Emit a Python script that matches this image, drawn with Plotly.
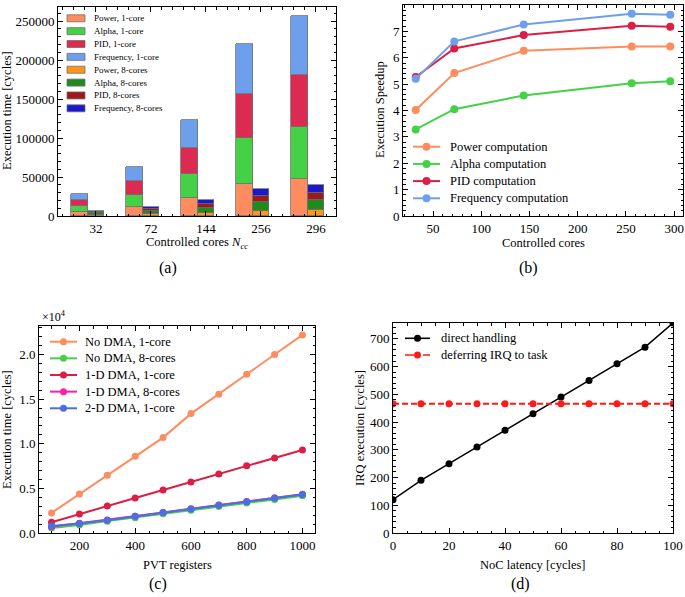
import plotly.graph_objects as go

W, H = 685, 597
SERIF = "Liberation Serif"

# ---------------- data ----------------
# (a) execution time per segment
cores_labels = ["32", "72", "144", "256", "296"]
power_1core = [5200, 11300, 22800, 40500, 47000]
alpha_1core = [7400, 16200, 31700, 58900, 67300]
pid_1core = [7900, 17000, 33300, 57600, 67100]
freq_1core = [7700, 17900, 35800, 64000, 74600]
power_8core = [1290, 2090, 3640, 6300, 7310]
alpha_8core = [2260, 4000, 6940, 11710, 13170]
pid_8core = [1500, 2680, 4850, 7990, 9350]
freq_8core = [1480, 2700, 4930, 8340, 9780]
bar_names = ["Power, 1-core", "Alpha, 1-core", "PID, 1-core", "Frequency, 1-core",
             "Power, 8-cores", "Alpha, 8-cores", "PID, 8-cores", "Frequency, 8-cores"]

# (b) speedup
cores = [32, 72, 144, 256, 296]
speed_power = [4.02, 5.42, 6.27, 6.43, 6.43]
speed_alpha = [3.28, 4.05, 4.57, 5.03, 5.11]
speed_pid = [5.27, 6.35, 6.86, 7.21, 7.18]
speed_freq = [5.20, 6.62, 7.26, 7.67, 7.63]
speed_names = ["Power computation", "Alpha computation", "PID computation", "Frequency computation"]

# (c) PVT registers
pvt_regs = [100, 200, 300, 400, 500, 600, 700, 800, 900, 1000]
nodma_1 = [2250, 4370, 6470, 8600, 10690, 13380, 15550, 17790, 20000, 22200]
nodma_8 = [560, 900, 1330, 1720, 2150, 2560, 2960, 3360, 3760, 4170]
dma1d_1 = [1200, 2130, 3030, 3930, 4820, 5720, 6620, 7550, 8410, 9310]
dma1d_8 = [700, 1080, 1460, 1890, 2300, 2720, 3130, 3540, 3940, 4350]
dma2d_1 = [780, 1060, 1430, 1870, 2290, 2700, 3100, 3500, 3900, 4320]
pvt_names = ["No DMA, 1-core", "No DMA, 8-cores", "1-D DMA, 1-core", "1-D DMA, 8-cores", "2-D DMA, 1-core"]
c_tickvals = [0, 5000, 10000, 15000, 20000]
c_ticktext = ["0.0", "0.5", "1.0", "1.5", "2.0"]

# (d) IRQ
noc_latency = [0, 10, 20, 30, 40, 50, 60, 70, 80, 90, 100]
direct_handling = [120, 190, 250, 310, 370, 430, 490, 550, 610, 670, 757]
deferring = [466, 466, 466, 466, 466, 466, 466, 466, 466, 466, 466]
irq_names = ["direct handling", "deferring IRQ to task"]

# ---------------- styles ----------------
bar_colors = ["#ff8c5e", "#45d145", "#dc2a50", "#6e9fec",
              "#ff9418", "#1f8b1f", "#9c1a1a", "#1a1acb"]
speed_colors = ["#ff8c5e", "#45d145", "#dc1e46", "#6e9fec"]
pvt_colors = ["#ff8c5e", "#45d145", "#dc1e46", "#ff1fa0", "#4a6fe3"]


def px(x):
    return x / W


def py(y):
    return 1 - y / H


fig = go.Figure()

# ---- (a) stacked bars ----
xpos = list(range(len(cores_labels)))
one_core = [power_1core, alpha_1core, pid_1core, freq_1core]
eight_core = [power_8core, alpha_8core, pid_8core, freq_8core]
bw = 0.3
for i, vals in enumerate(one_core):
    fig.add_trace(go.Bar(x=[p - bw for p in xpos], y=vals, width=bw, name=bar_names[i],
                         marker=dict(color=bar_colors[i], line=dict(color="#707070", width=0.8)),
                         xaxis="x", yaxis="y", showlegend=False))
for i, vals in enumerate(eight_core):
    fig.add_trace(go.Bar(x=xpos, y=vals, width=bw, name=bar_names[4 + i],
                         marker=dict(color=bar_colors[4 + i], line=dict(color="#707070", width=0.8)),
                         xaxis="x", yaxis="y", showlegend=False))

# ---- (b) speedup ----
for s, name, col in zip([speed_power, speed_alpha, speed_pid, speed_freq], speed_names, speed_colors):
    fig.add_trace(go.Scatter(x=cores, y=s, mode="lines+markers", name=name,
                             line=dict(color=col, width=2), marker=dict(color=col, size=8),
                             xaxis="x2", yaxis="y2", showlegend=False))

# ---- (c) PVT ----
for s, name, col in zip([nodma_1, nodma_8, dma1d_1, dma1d_8, dma2d_1], pvt_names, pvt_colors):
    fig.add_trace(go.Scatter(x=pvt_regs, y=s, mode="lines+markers", name=name,
                             line=dict(color=col, width=2), marker=dict(color=col, size=7),
                             xaxis="x3", yaxis="y3", showlegend=False))

# ---- (d) IRQ ----
fig.add_trace(go.Scatter(x=noc_latency, y=direct_handling, mode="lines+markers", name=irq_names[0],
                         line=dict(color="black", width=1.5), marker=dict(color="black", size=7),
                         xaxis="x4", yaxis="y4", showlegend=False))
fig.add_trace(go.Scatter(x=noc_latency, y=deferring, mode="lines+markers", name=irq_names[1],
                         line=dict(color="#ff1a1a", width=1.8, dash="6px,3px"),
                         marker=dict(color="#ff1a1a", size=7),
                         xaxis="x4", yaxis="y4", showlegend=False))


def axis(domain, anchor, rng, minor_dtick, **kw):
    d = dict(domain=domain, anchor=anchor, range=rng, showline=True, linecolor="black", linewidth=1,
             mirror="allticks", ticks="inside", ticklen=5, tickwidth=1, tickcolor="black",
             minor=dict(ticks="inside", ticklen=2.5, tickwidth=1, tickcolor="black", dtick=minor_dtick,
                        tick0=0),
             showgrid=False, zeroline=False, automargin=False,
             tickfont=dict(family=SERIF, size=13, color="black"))
    d.update(kw)
    return d


fig.update_layout(
    width=W, height=H, margin=dict(l=0, r=0, t=0, b=0, autoexpand=False),
    paper_bgcolor="white", plot_bgcolor="white", barmode="stack", bargap=0,
    showlegend=False,
    xaxis=axis([px(58), px(336)], "y", [-0.69, 4.365], 0.2,
               tickmode="array", tickvals=xpos, ticktext=cores_labels),
    yaxis=axis([py(216), py(7)], "x", [0, 268000], 10000, dtick=50000, tickformat="d"),
    xaxis2=axis([px(403), px(683)], "y2", [18.8, 309.2], 10, dtick=50),
    yaxis2=axis([py(216), py(5)], "x2", [0, 8], 0.2, dtick=1),
    xaxis3=axis([px(39), px(315)], "y3", [55, 1045], 50, dtick=200),
    yaxis3=axis([py(533), py(326)], "x3", [0, 23200], 1000,
                tickmode="array", tickvals=c_tickvals, ticktext=c_ticktext),
    xaxis4=axis([px(393), px(673)], "y4", [0, 100], 5, dtick=20),
    yaxis4=axis([py(533), py(323)], "x4", [0, 757], 20, dtick=100),
)

ann = []
shapes = []


def text(x, y, s, size=12.5, angle=0, xanchor="center", family=SERIF):
    ann.append(dict(x=px(x), y=py(y), xref="paper", yref="paper", text=s, showarrow=False,
                    textangle=angle, xanchor=xanchor, yanchor="middle",
                    font=dict(family=family, size=size, color="black")))


# axis titles
text(7, 111, "Execution time [cycles]", angle=-90)
text(197, 243, "Controlled cores <i>N</i><sub><i>cc</i></sub>")
text(380, 110, "Execution Speedup", angle=-90)
text(543, 243, "Controlled cores")
text(7, 430, "Execution time [cycles]", angle=-90)
text(177, 565, "PVT registers")
text(360, 428, "IRQ execution [cycles]", angle=-90)
text(533, 565, "NoC latency [cycles]")
text(54, 316, "×10<sup>4</sup>", size=12)

# captions
text(168, 268, "(a)", size=16)
text(528, 268, "(b)", size=16)
text(158, 584, "(c)", size=16)
text(520, 584, "(d)", size=16)

# legend (a)
for i, name in enumerate(bar_names):
    yc = 18.3 + 12.86 * i
    shapes.append(dict(type="rect", xref="paper", yref="paper", x0=px(67), x1=px(85),
                       y0=py(yc + 3.5), y1=py(yc - 3.5), fillcolor=bar_colors[i],
                       line=dict(color="#707070", width=0.8)))
    text(92, yc, name, size=9, xanchor="left")


def line_legend(names, colors, x0, x1, xt, y0, dy, msize=4, dashes=None, width=2):
    for i, (name, col) in enumerate(zip(names, colors)):
        yc = y0 + dy * i
        dash = dashes[i] if dashes else "solid"
        shapes.append(dict(type="line", xref="paper", yref="paper", x0=px(x0), x1=px(x1),
                           y0=py(yc), y1=py(yc), line=dict(color=col, width=width, dash=dash)))
        xm = (x0 + x1) / 2
        shapes.append(dict(type="circle", xref="paper", yref="paper", x0=px(xm - msize),
                           x1=px(xm + msize), y0=py(yc + msize), y1=py(yc - msize),
                           fillcolor=col, line=dict(color=col, width=0)))
        text(xt, yc, name, size=12.5, xanchor="left")


line_legend(speed_names, speed_colors, 413, 440, 448, 146.7, 17.2)
line_legend(pvt_names, pvt_colors, 50, 77, 83, 341.7, 16.65, msize=3.5)
line_legend(irq_names, ["black", "#ff1a1a"], 405, 430, 439, 338.3, 16.7, msize=3.5,
            dashes=["solid", "dash"], width=1.6)

fig.update_layout(annotations=ann, shapes=shapes)
fig.write_html("out.html", config={"displayModeBar": False},
               post_script="document.body.style.margin='0';document.body.style.overflow='hidden';")
